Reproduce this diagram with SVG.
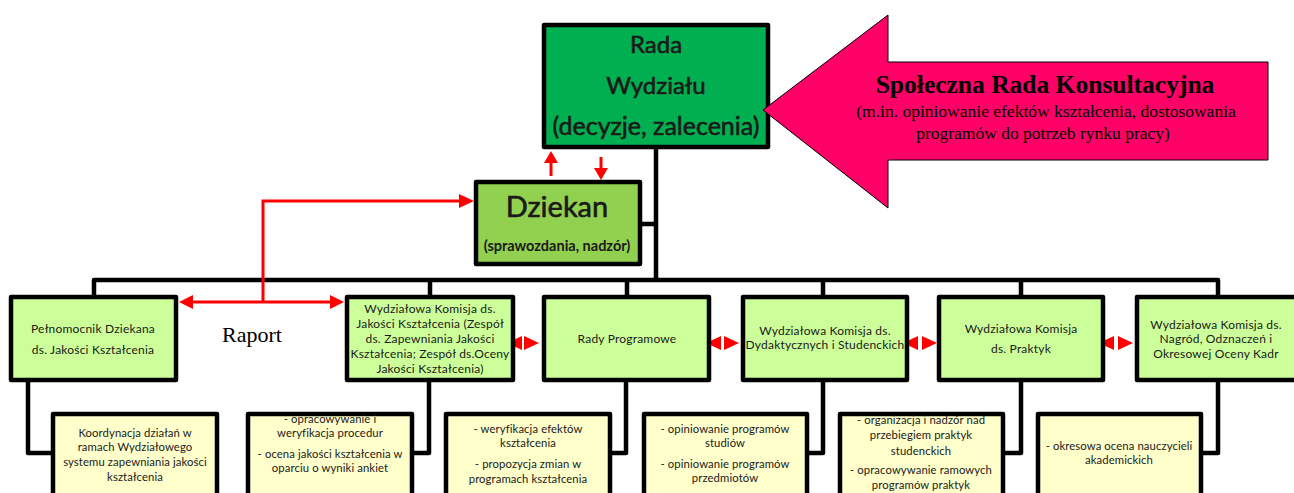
<svg xmlns="http://www.w3.org/2000/svg" width="1294" height="493" viewBox="0 0 1294 493">
<defs>
<style>
.blk{stroke:#000;stroke-width:4.5;fill:none;stroke-linejoin:round}
.red{stroke:#FF0000;stroke-width:3;fill:none}
.rh{fill:#FF0000}
.box{stroke:#000;stroke-width:4.5;stroke-linejoin:round}
.g{fill:#CCFF99}
.y{fill:#FFFFCC}
.t{font-family:Lato,"Liberation Sans",sans-serif;fill:#1a1a1a;text-anchor:middle}
.hv{stroke:#1a1a1a;stroke-width:0.6px}
.s{font-size:12px;letter-spacing:0.2px}
.ys{font-size:11.3px;letter-spacing:0.1px}
.serif{font-family:"Liberation Serif","Times New Roman",serif;fill:#000;text-anchor:middle}
</style>
</defs>
<rect width="1294" height="493" fill="#fff"/>

<g id="connectors">
<path class="blk" d="M656 147 V280 M640 224 H656 M94 296 V280 H1218 V296 M430 280 V296 M627 280 V296 M823 280 V296 M1021 280 V296"/>
<path class="blk" d="M28 380 V453 H52 M429 380 V453 H412 M626 380 V453 H610 M823 380 V453 H807 M1021 380 V453 H1003 M1218 380 V453 H1201"/>
<path class="red" d="M551 176 V162 M601 157 V168 M263 302 V201 H460 M192 302 H330"/>
<polygon class="rh" points="551,151 544,163 558,163"/>
<polygon class="rh" points="601,180 594,168 608,168"/>
<polygon class="rh" points="474,201 459,194 459,208"/>
<polygon class="rh" points="179,302 193,295 193,309"/>
<polygon class="rh" points="344,302 330,295 330,309"/>
<g id="dbl1"><polygon class="rh" points="507,343 522,336 522,350"/><polygon class="rh" points="539,343 524,336 524,350"/></g>
<g id="dbl2"><polygon class="rh" points="706,343 721,336 721,350"/><polygon class="rh" points="739,343 724,336 724,350"/></g>
<g id="dbl3"><polygon class="rh" points="903,343 918,336 918,350"/><polygon class="rh" points="937,343 922,336 922,350"/></g>
<g id="dbl4"><polygon class="rh" points="1099,343 1114,336 1114,350"/><polygon class="rh" points="1133,343 1118,336 1118,350"/></g>
<text class="serif" x="252" y="342" font-size="22">Raport</text>
</g>

<g id="rada">
<rect class="box" x="544" y="25" width="224" height="122" fill="#00B050"/>
<text class="t hv" x="656" y="53" font-size="24">Rada</text>
<text class="t hv" x="656" y="94" font-size="24">Wydziału</text>
<text class="t hv" x="656" y="135" font-size="25">(decyzje, zalecenia)</text>
</g>

<g id="dziekan">
<rect class="box" x="476" y="182" width="164" height="82" fill="#92D050"/>
<text class="t hv" x="557" y="217" font-size="29">Dziekan</text>
<text class="t" x="557" y="251" font-size="14.5" font-weight="bold">(sprawozdania, nadzór)</text>
</g>

<g id="srk">
<polygon points="763,110 888,15 888,62 1268,62 1268,160 888,160 888,208" fill="#FF0066" stroke="#000" stroke-width="1"/>
<text class="serif" x="1045" y="93" font-size="25.5" font-weight="bold">Społeczna Rada Konsultacyjna</text>
<text class="serif" x="1046" y="117" font-size="17.5">(m.in. opiniowanie efektów kształcenia, dostosowania</text>
<text class="serif" x="1043" y="139" font-size="17.5">programów do potrzeb rynku pracy)</text>
</g>

<g id="pelnomocnik">
<rect class="box g" x="11" y="297" width="165" height="83"/>
<text class="t s" x="93" y="333">Pełnomocnik  Dziekana</text>
<text class="t s" x="93" y="354">ds. Jakości  Kształcenia</text>
</g>
<g id="komisja-jakosci">
<rect class="box g" x="347" y="297" width="166" height="83"/>
<text class="t s" x="430" y="313">Wydziałowa  Komisja  ds.</text>
<text class="t s" x="430" y="328">Jakości  Kształcenia  (Zespół</text>
<text class="t s" x="430" y="343">ds. Zapewniania  Jakości</text>
<text class="t s" x="430" y="358">Kształcenia; Zespół ds.Oceny</text>
<text class="t s" x="430" y="373">Jakości Kształcenia)</text>
</g>
<g id="rady-programowe">
<rect class="box g" x="544" y="297" width="165" height="83"/>
<text class="t s" x="627" y="343">Rady Programowe</text>
</g>
<g id="komisja-dydaktyczna">
<rect class="box g" x="743" y="297" width="164" height="83"/>
<text class="t s" x="825" y="335">Wydziałowa  Komisja  ds.</text>
<text class="t s" x="825" y="349">Dydaktycznych  i  Studenckich</text>
</g>
<g id="komisja-praktyk">
<rect class="box g" x="939" y="297" width="164" height="83"/>
<text class="t s" x="1021" y="333">Wydziałowa  Komisja</text>
<text class="t s" x="1021" y="353">ds. Praktyk</text>
</g>
<g id="komisja-nagrod">
<rect class="box g" x="1137" y="297" width="162" height="83"/>
<text class="t s" x="1216" y="329">Wydziałowa  Komisja  ds.</text>
<text class="t s" x="1216" y="343">Nagród, Odznaczeń  i</text>
<text class="t s" x="1216" y="358">Okresowej  Oceny  Kadr</text>
</g>

<g id="zad-pelnomocnik">
<rect class="box y" x="53" y="414" width="164" height="110"/>
<text class="t ys" x="135" y="437">Koordynacja  działań  w</text>
<text class="t ys" x="135" y="451">ramach Wydziałowego</text>
<text class="t ys" x="135" y="466">systemu zapewniania  jakości</text>
<text class="t ys" x="135" y="481">kształcenia</text>
</g>
<g id="zad-komisja-jakosci">
<rect class="box y" x="248" y="414" width="164" height="110"/>
<text class="t ys" x="330" y="423">- opracowywanie   i</text>
<text class="t ys" x="330" y="437">weryfikacja procedur</text>
<text class="t ys" x="330" y="458">- ocena jakości kształcenia  w</text>
<text class="t ys" x="330" y="472">oparciu o wyniki ankiet</text>
</g>
<g id="zad-rady-programowe">
<rect class="box y" x="446" y="414" width="164" height="110"/>
<text class="t ys" x="528" y="433">-  weryfikacja efektów</text>
<text class="t ys" x="528" y="447">kształcenia</text>
<text class="t ys" x="528" y="468">- propozycja zmian  w</text>
<text class="t ys" x="528" y="483">programach kształcenia</text>
</g>
<g id="zad-komisja-dydaktyczna">
<rect class="box y" x="644" y="414" width="163" height="110"/>
<text class="t ys" x="725" y="433">- opiniowanie   programów</text>
<text class="t ys" x="725" y="447">studiów</text>
<text class="t ys" x="725" y="468">- opiniowanie   programów</text>
<text class="t ys" x="725" y="482">przedmiotów</text>
</g>
<g id="zad-komisja-praktyk">
<rect class="box y" x="840" y="414" width="163" height="110"/>
<text class="t ys" x="921" y="424">- organizacja  i nadzór  nad</text>
<text class="t ys" x="921" y="439">przebiegiem  praktyk</text>
<text class="t ys" x="921" y="455">studenckich</text>
<text class="t ys" x="921" y="474">- opracowywanie  ramowych</text>
<text class="t ys" x="921" y="489">programów praktyk</text>
</g>
<g id="zad-komisja-nagrod">
<rect class="box y" x="1038" y="414" width="163" height="110"/>
<text class="t ys" x="1119" y="450">- okresowa ocena  nauczycieli</text>
<text class="t ys" x="1119" y="464">akademickich</text>
</g>
</svg>
